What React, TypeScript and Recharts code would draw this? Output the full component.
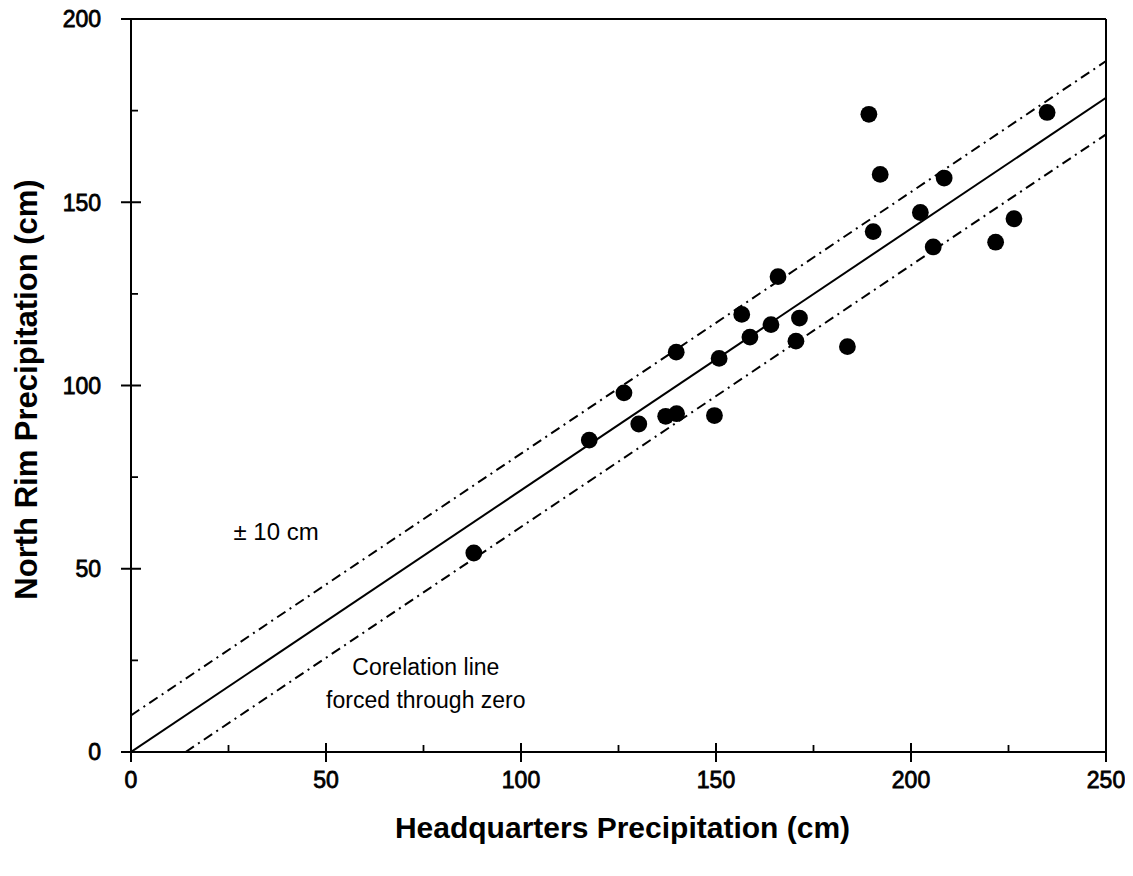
import React from 'react';
import {
  ScatterChart,
  Scatter,
  XAxis,
  YAxis,
  ReferenceLine,
  ReferenceDot,
} from 'recharts';

const FONT = '"Liberation Sans", Arial, Helvetica, sans-serif';

// Headquarters precipitation (cm) for each year
const hqPrecip = [
  87.9, 117.5, 126.4, 130.2, 137.1, 139.9, 139.8, 149.6, 150.8, 156.6, 158.7, 164.1, 165.9,
  170.5, 171.4, 183.7, 189.2, 190.3, 192.1, 202.4, 205.7, 208.5, 221.7, 226.4, 234.9,
];
// North Rim precipitation (cm) for each year
const northRimPrecip = [
  54.3, 85.1, 98.0, 89.5, 91.6, 92.3, 109.1, 91.8, 107.4, 119.4, 113.2, 116.6, 129.7,
  112.1, 118.4, 110.6, 174.0, 142.0, 157.6, 147.2, 137.8, 156.6, 139.1, 145.5, 174.5,
];

const xTicks = [0, 25, 50, 75, 100, 125, 150, 175, 200, 225, 250];
const yTicks = [0, 25, 50, 75, 100, 125, 150, 175, 200];
const majorStep = 50;

// Correlation line forced through zero and the +/- 10 cm band
const fitX = [0, 250];
const fitY = [0, 178.5];
const upperX = [0, 250];
const upperY = [10, 188.5];
const lowerX = [14, 250];
const lowerY = [0, 168.5];

const annotationText = ['± 10 cm', 'Corelation line', 'forced through zero'];
const annotationX = [37.2, 75.6, 75.6];
const annotationY = [60.1, 23.2, 14.2];
const annotationSize = [24, 23, 23];

const points = hqPrecip.map((x, i) => ({ x, y: northRimPrecip[i] }));
const toPts = (xs: number[], ys: number[]) => xs.map((x, i) => ({ x, y: ys[i] }));
const fitLine = toPts(fitX, fitY);
const upperLine = toPts(upperX, upperY);
const lowerLine = toPts(lowerX, lowerY);

const XTick = (props: any) => {
  const { x, y, payload } = props;
  const v = payload.value;
  const major = v % majorStep === 0;
  return (
    <g>
      {major ? (
        <line x1={x} x2={x} y1={y - 9} y2={y + 10} stroke="#000" strokeWidth={2} />
      ) : (
        <line x1={x} x2={x} y1={y} y2={y - 7} stroke="#000" strokeWidth={1.8} />
      )}
      {major && (
        <text
          x={x}
          y={y + 36}
          textAnchor="middle"
          fontFamily={FONT}
          fontSize={23}
          fill="#000"
          stroke="#000"
          strokeWidth={0.8}
        >
          {v}
        </text>
      )}
    </g>
  );
};

const YTick = (props: any) => {
  const { x, y, payload } = props;
  const v = payload.value;
  const major = v % majorStep === 0;
  return (
    <g>
      {major ? (
        <line x1={x - 10} x2={x + 10} y1={y} y2={y} stroke="#000" strokeWidth={2} />
      ) : (
        <line x1={x} x2={x + 7} y1={y} y2={y} stroke="#000" strokeWidth={1.8} />
      )}
      {major && (
        <text
          x={x - 30}
          y={y}
          dy="0.36em"
          textAnchor="end"
          fontFamily={FONT}
          fontSize={23}
          fill="#000"
          stroke="#000"
          strokeWidth={0.8}
        >
          {v}
        </text>
      )}
    </g>
  );
};

const XTitle = (props: any) => {
  const vb = props.viewBox || { x: 123, y: 744, width: 975, height: 116 };
  const cx = vb.x + vb.width / 2 + 4;
  const by = vb.y + 86;
  return (
    <text
      x={cx}
      y={by}
      textAnchor="middle"
      fontFamily={FONT}
      fontSize={30}
      fontWeight="bold"
      fill="#000"
    >
      Headquarters Precipitation (cm)
    </text>
  );
};

const YTitle = (props: any) => {
  const vb = props.viewBox || { x: 0, y: 11, width: 123, height: 733 };
  const cx = vb.x + 29;
  const cy = vb.y + vb.height / 2 + 4;
  return (
    <text
      x={cx}
      y={cy}
      transform={`rotate(-90 ${cx} ${cy})`}
      textAnchor="middle"
      fontFamily={FONT}
      fontSize={31}
      fontWeight="bold"
      fill="#000"
    >
      North Rim Precipitation (cm)
    </text>
  );
};

const Dot = (props: any) => {
  const { cx, cy } = props;
  if (cx == null || cy == null) return <g />;
  return <circle cx={cx} cy={cy} r={8.4} fill="#000" />;
};

const NoShape = () => <g />;

const DASH = '10 5 2 5';

export default function App() {
  return (
    <div style={{ width: 1117, height: 860, background: '#fff' }}>
      <ScatterChart
        width={1117}
        height={860}
        margin={{ top: 11, right: 19, bottom: 0, left: 0 }}
      >
        <XAxis
          type="number"
          dataKey="x"
          domain={[0, 250]}
          ticks={xTicks}
          interval={0}
          height={116}
          tickSize={0}
          tickMargin={0}
          tickLine={false}
          axisLine={{ stroke: '#000', strokeWidth: 2 }}
          tick={<XTick />}
          label={<XTitle />}
          allowDataOverflow
        />
        <YAxis
          type="number"
          dataKey="y"
          domain={[0, 200]}
          ticks={yTicks}
          interval={0}
          width={123}
          tickSize={0}
          tickMargin={0}
          tickLine={false}
          axisLine={{ stroke: '#000', strokeWidth: 2 }}
          tick={<YTick />}
          label={<YTitle />}
          allowDataOverflow
        />
        <ReferenceLine y={200} stroke="#000" strokeWidth={2} />
        <ReferenceLine x={250} stroke="#000" strokeWidth={2} />
        <Scatter
          data={upperLine}
          line={{ stroke: '#000', strokeWidth: 2, strokeDasharray: DASH }}
          shape={NoShape}
          isAnimationActive={false}
        />
        <Scatter
          data={lowerLine}
          line={{ stroke: '#000', strokeWidth: 2, strokeDasharray: DASH }}
          shape={NoShape}
          isAnimationActive={false}
        />
        <Scatter
          data={fitLine}
          line={{ stroke: '#000', strokeWidth: 2 }}
          shape={NoShape}
          isAnimationActive={false}
        />
        <Scatter data={points} shape={Dot} fill="#000" isAnimationActive={false} />
        {annotationText.map((t, i) => (
          <ReferenceDot
            key={t}
            x={annotationX[i]}
            y={annotationY[i]}
            r={0}
            fill="none"
            stroke="none"
            label={{
              value: t,
              position: 'center',
              fontSize: annotationSize[i],
              fontFamily: FONT,
              fill: '#000',
            }}
          />
        ))}
      </ScatterChart>
    </div>
  );
}
